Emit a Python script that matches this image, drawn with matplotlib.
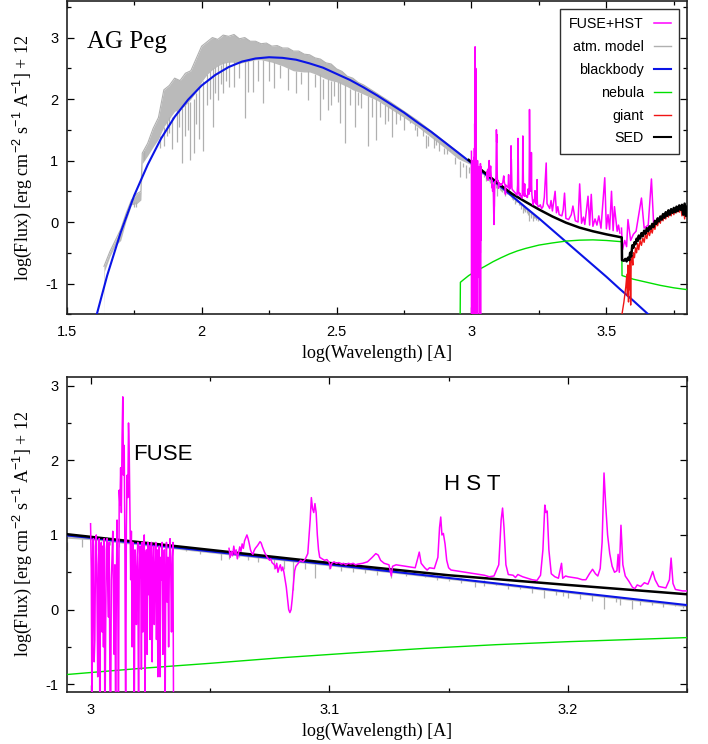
import numpy as np
import matplotlib
matplotlib.use('Agg')
import matplotlib.pyplot as plt
from matplotlib.lines import Line2D
from matplotlib.ticker import MultipleLocator, FuncFormatter

plt.rcParams['font.family'] = ['Liberation Sans', 'DejaVu Sans']
plt.rcParams['mathtext.fontset'] = 'custom'
plt.rcParams['mathtext.rm'] = 'Liberation Sans'
plt.rcParams['mathtext.it'] = 'Liberation Sans'

# ---------------- data (log wavelength [A], log flux + 12) ----------------
bb_wave = [1.60, 1.65, 1.70, 1.75, 1.80, 1.85, 1.90, 1.95, 2.00, 2.05, 2.10, 2.15,
           2.20, 2.25, 2.30, 2.35, 2.40, 2.45, 2.50, 2.55, 2.60, 2.65, 2.70, 2.75,
           2.80, 2.85, 2.90, 2.95, 3.00, 3.05, 3.10, 3.15, 3.20, 3.25, 3.30, 3.35,
           3.40, 3.45, 3.50, 3.55, 3.60, 3.65, 3.70]
bb_flux = [-1.69, -0.87, -0.17, 0.43, 0.93, 1.36, 1.71, 1.99, 2.22, 2.39, 2.52, 2.61,
           2.66, 2.68, 2.67, 2.64, 2.58, 2.51, 2.41, 2.31, 2.19, 2.06, 1.92, 1.78,
           1.62, 1.47, 1.30, 1.13, 0.96, 0.78, 0.605, 0.424, 0.24, 0.06, -0.13, -0.32,
           -0.51, -0.70, -0.89, -1.09, -1.28, -1.48, -1.67]

neb_wave = [2.958, 2.959, 2.97, 2.99, 3.02, 3.05, 3.08, 3.11, 3.14, 3.17, 3.20, 3.25,
            3.30, 3.35, 3.40, 3.45, 3.50, 3.557, 3.558, 3.60, 3.65, 3.70, 3.75, 3.80]
neb_flux = [-1.60, -0.98, -0.94, -0.87, -0.79, -0.72, -0.645, -0.58, -0.52, -0.47, -0.43, -0.375,
            -0.34, -0.31, -0.295, -0.29, -0.30, -0.32, -0.87, -0.93, -0.98, -1.03, -1.07, -1.10]

sed_wave = [2.990, 3.000, 3.050, 3.100, 3.150, 3.200, 3.250, 3.300, 3.350, 3.400, 3.450, 3.500, 3.557,
            3.558, 3.565, 3.570, 3.575, 3.580, 3.585, 3.588, 3.592, 3.596, 3.600, 3.604, 3.608,
            3.612, 3.616, 3.620, 3.625, 3.630, 3.635, 3.640, 3.645, 3.650, 3.655, 3.660, 3.665,
            3.670, 3.675, 3.680, 3.685, 3.690, 3.695, 3.700, 3.705, 3.710, 3.715, 3.720, 3.725,
            3.730, 3.735, 3.740, 3.745, 3.750, 3.755, 3.760, 3.765, 3.770, 3.775, 3.780, 3.785,
            3.790, 3.795, 3.800]
sed_flux = [1.01, 0.975, 0.80, 0.625, 0.46, 0.33, 0.205, 0.09, -0.01, -0.09, -0.15, -0.20, -0.25,
            -0.62, -0.63, -0.60, -0.64, -0.58, -0.62, -0.50, -0.56, -0.38, -0.42, -0.33, -0.36,
            -0.27, -0.31, -0.22, -0.27, -0.18, -0.23, -0.14, -0.19, -0.10, -0.15, -0.07, -0.11,
            -0.03, -0.08, 0.02, -0.03, 0.06, 0.01, 0.09, 0.04, 0.13, 0.07, 0.16, 0.10,
            0.19, 0.12, 0.21, 0.15, 0.23, 0.16, 0.25, 0.18, 0.27, 0.20, 0.28, 0.12,
            0.30, 0.10, 0.25]

giant_wave = [3.556, 3.565, 3.572, 3.576, 3.578, 3.580, 3.582, 3.584, 3.586, 3.588, 3.590, 3.592,
              3.595, 3.598, 3.600, 3.604, 3.608, 3.612, 3.616, 3.620, 3.625, 3.630, 3.635, 3.640,
              3.645, 3.650, 3.655, 3.660, 3.665, 3.670, 3.675, 3.680, 3.685, 3.690, 3.695, 3.700,
              3.705, 3.710, 3.715, 3.720, 3.725, 3.730, 3.735, 3.740, 3.745, 3.750, 3.755, 3.760,
              3.765, 3.770, 3.775, 3.780, 3.785, 3.790, 3.795, 3.800]
giant_flux = [-1.55, -1.30, -1.05, -0.85, -1.20, -0.70, -1.30, -0.75, -1.10, -0.60, -1.35, -0.62,
              -0.55, -0.70, -0.50, -0.58, -0.42, -0.50, -0.35, -0.45, -0.30, -0.38, -0.26, -0.33,
              -0.20, -0.27, -0.15, -0.22, -0.12, -0.18, -0.05, -0.12, 0.00, -0.06, 0.05, -0.02,
              0.10, 0.02, 0.12, 0.05, 0.16, 0.08, 0.18, 0.10, 0.20, 0.12, 0.22, 0.15,
              0.24, 0.16, 0.25, 0.10, 0.27, 0.05, 0.22, 0.15]

# atmosphere model: dense band (upper / lower envelope) plus strong absorption lines
atm_wave = [1.638, 1.640, 1.660, 1.680, 1.700, 1.720, 1.740, 1.760, 1.775, 1.780, 1.800, 1.820,
            1.840, 1.860, 1.880, 1.900, 1.920, 1.940, 1.960, 1.980, 2.000, 2.020, 2.040, 2.060,
            2.080, 2.100, 2.120, 2.140, 2.160, 2.180, 2.200, 2.220, 2.240, 2.260, 2.280, 2.300,
            2.320, 2.340, 2.360, 2.380, 2.400, 2.420, 2.440, 2.460, 2.480, 2.500, 2.520, 2.540,
            2.560, 2.580, 2.600, 2.650, 2.700, 2.750, 2.800, 2.850, 2.900, 2.950, 3.000, 3.050,
            3.100, 3.150, 3.200, 3.250]
atm_top = [-0.72, -0.70, -0.48, -0.30, -0.12, 0.14, 0.36, 0.46, 0.50, 1.12, 1.28, 1.52,
           1.70, 2.15, 2.22, 2.34, 2.30, 2.42, 2.46, 2.66, 2.86, 2.93, 3.00, 2.97,
           3.04, 3.02, 3.05, 2.98, 3.00, 2.94, 2.94, 2.90, 2.91, 2.86, 2.87, 2.83,
           2.83, 2.78, 2.78, 2.73, 2.72, 2.67, 2.65, 2.59, 2.57, 2.49, 2.45, 2.37,
           2.34, 2.27, 2.23, 2.09, 1.95, 1.80, 1.65, 1.48, 1.31, 1.14, 0.96, 0.78,
           0.60, 0.42, 0.24, 0.05]
atm_bot = [-1.50, -0.80, -0.56, -0.38, -0.30, 0.02, 0.28, 0.30, 0.36, 0.95, 1.08, 1.22,
           1.35, 1.55, 1.68, 1.80, 1.84, 1.90, 2.00, 2.12, 2.28, 2.40, 2.48, 2.54,
           2.58, 2.60, 2.60, 2.58, 2.60, 2.62, 2.64, 2.64, 2.62, 2.60, 2.57, 2.54,
           2.50, 2.46, 2.45, 2.44, 2.44, 2.41, 2.37, 2.33, 2.30, 2.28, 2.24, 2.20,
           2.15, 2.12, 2.08, 1.98, 1.84, 1.70, 1.55, 1.38, 1.21, 1.03, 0.93, 0.755,
           0.58, 0.40, 0.215, 0.03]
line_wave = [1.750, 1.757, 1.787, 1.860, 1.880, 1.890, 1.926, 1.940, 1.957, 1.970, 1.990, 2.006,
             2.020, 2.043, 2.061, 2.080, 2.100, 2.120, 2.160, 2.173, 2.190, 2.228, 2.250, 2.270,
             2.320, 2.350, 2.395, 2.438, 2.450, 2.469, 2.480, 2.506, 2.512, 2.531, 2.550, 2.568,
             2.590, 2.617, 2.648, 2.660, 2.680, 2.704, 2.735, 2.750, 2.772, 2.800, 2.833, 2.839,
             2.860, 2.880, 2.900, 2.920, 2.940, 2.957, 2.969, 2.981, 2.990, 2.9965, 3.003, 3.0545,
             3.062, 3.077, 3.0846, 3.094, 3.100, 3.126, 3.140, 3.161, 3.170, 3.180, 3.190, 3.195,
             3.205, 3.215, 3.227, 3.235, 3.245,
             1.845, 1.870, 1.910, 1.915, 1.950, 1.980, 2.030, 2.050, 2.070, 2.090, 2.140, 2.210,
             2.290, 2.370, 2.420, 2.490, 2.580, 2.630, 2.690, 2.720, 2.790, 2.820, 2.870, 2.910,
             3.008, 3.012, 3.020, 3.030, 3.040, 3.046, 3.058, 3.066, 3.070, 3.081, 3.090, 3.105,
             3.110, 3.115, 3.120, 3.132, 3.145, 3.150, 3.155, 3.165, 3.175, 3.185, 3.198, 3.200,
             3.210, 3.220, 3.222, 3.230, 3.240, 3.248]
line_lo = [0.25, 0.25, 1.01, 1.23, 1.45, 1.18, 0.96, 1.40, 1.01, 1.13, 1.35, 1.15,
           1.90, 1.55, 1.99, 2.10, 2.20, 2.20, 1.69, 2.12, 2.12, 1.93, 2.30, 2.18,
           2.15, 2.10, 1.99, 1.66, 2.00, 1.83, 1.90, 1.96, 1.61, 1.28, 1.90, 1.55,
           1.85, 1.23, 1.34, 1.70, 1.60, 1.39, 1.66, 1.50, 1.61, 1.40, 1.20, 1.23,
           1.20, 1.15, 1.10, 1.15, 0.95, 0.74, 0.90, 0.72, 0.80, 0.84, 0.80, 0.66,
           0.70, 0.55, 0.26, 0.42, 0.55, 0.42, 0.45, 0.30, 0.33, 0.28, 0.15, 0.20,
           0.14, 0.01, 0.01, 0.06, 0.05,
           1.20, 1.40, 1.30, 1.55, 1.50, 1.60, 2.00, 2.10, 2.25, 2.30, 2.35, 2.30,
           2.35, 2.25, 2.20, 2.05, 1.90, 1.70, 1.65, 1.60, 1.50, 1.40, 1.25, 1.10,
           0.86, 0.84, 0.82, 0.84, 0.78, 0.74, 0.68, 0.66, 0.64, 0.55, 0.55, 0.52,
           0.50, 0.49, 0.47, 0.45, 0.40, 0.38, 0.36, 0.32, 0.28, 0.22, 0.18, 0.16,
           0.12, 0.10, 0.06, 0.06, 0.04, 0.02]
line_hi = [0.33, 0.33, 1.15, 1.55, 1.70, 1.70, 1.85, 1.90, 1.95, 2.00, 2.20, 2.30,
           2.40, 2.50, 2.55, 2.60, 2.62, 2.62, 2.62, 2.63, 2.64, 2.64, 2.63, 2.60,
           2.50, 2.45, 2.45, 2.40, 2.33, 2.32, 2.30, 2.28, 2.27, 2.23, 2.17, 2.14,
           2.10, 2.05, 2.00, 1.96, 1.90, 1.84, 1.75, 1.70, 1.65, 1.55, 1.42, 1.40,
           1.37, 1.30, 1.20, 1.18, 1.05, 1.00, 0.96, 0.92, 0.90, 0.94, 0.93, 0.76,
           0.74, 0.69, 0.67, 0.64, 0.60, 0.49, 0.44, 0.39, 0.36, 0.32, 0.28, 0.26,
           0.22, 0.18, 0.13, 0.11, 0.08,
           1.40, 1.65, 1.82, 1.83, 1.95, 2.10, 2.45, 2.52, 2.56, 2.60, 2.58, 2.64,
           2.55, 2.44, 2.41, 2.30, 2.12, 2.02, 1.88, 1.80, 1.60, 1.50, 1.34, 1.18,
           0.92, 0.91, 0.90, 0.87, 0.85, 0.82, 0.75, 0.73, 0.71, 0.68, 0.65, 0.59,
           0.57, 0.55, 0.54, 0.50, 0.46, 0.44, 0.42, 0.39, 0.35, 0.31, 0.25, 0.24,
           0.21, 0.17, 0.16, 0.12, 0.09, 0.07]

# FUSE spectrum, sampled evenly between these wavelengths
fuse_range = (3.0000, 3.0348)
fuse_flux = [1.15, 0.55, -1.70, 0.90, 0.95, -0.70, -0.40, 0.85, 1.00, 0.20, -0.90, 0.60,
             0.95, -1.70, 0.80, 0.90, -0.30, 0.85, -0.50, 0.95, -1.70, -0.40, 0.80, 0.95,
             0.30, -0.10, 0.90, -0.95, -1.70, 0.40, 0.70, 1.05, 0.10, -0.60, 0.60, -1.70,
             0.30, 1.20, 0.20, -1.70, 1.60, 1.40, 1.90, 1.30, 2.30, 2.85, 1.80, 2.20,
             0.70, -1.70, 1.10, 1.80, 1.50, 2.50, 2.10, 1.30, 0.40, 1.05, -0.50, 0.90,
             0.60, -1.70, 0.80, 0.50, -0.20, 0.70, 0.90, -1.70, 0.40, 0.85, 0.70, -0.80,
             0.90, -0.30, 0.60, 1.00, -1.70, 0.70, 0.80, -0.60, 0.90, 0.20, 0.85, -0.40,
             0.70, 0.90, -0.70, 0.60, 0.85, -0.20, 0.50, 0.90, -0.40, 0.80, -0.90, 0.60,
             0.85, -0.90, 0.70, 0.40, 0.90, -0.60, 0.60, 0.80, -1.70, 0.50, 0.90, 0.10,
             0.70, -0.50, 0.60, 0.95, 0.50, -0.30, 0.70, 0.90, -1.70]

# HST spectrum (log wavelength, log flux)
hst_points = [
    (3.0580, 0.82), (3.0585, 0.70), (3.0590, 0.78), (3.0595, 0.72), (3.0600, 0.85), (3.0605, 0.74),
    (3.0610, 0.80), (3.0615, 0.68), (3.0620, 0.76), (3.0625, 0.84), (3.0630, 0.78), (3.0635, 0.88),
    (3.0640, 0.82), (3.0645, 0.92), (3.0650, 0.96), (3.0655, 1.00), (3.0660, 0.95), (3.0665, 0.88),
    (3.0670, 0.80), (3.0675, 0.76), (3.0680, 0.74), (3.0685, 0.79), (3.0690, 0.82), (3.0700, 0.86),
    (3.0710, 0.91), (3.0715, 0.89), (3.0720, 0.84), (3.0730, 0.76), (3.0740, 0.70), (3.0750, 0.66),
    (3.0755, 0.68), (3.0760, 0.63), (3.0770, 0.60), (3.0775, 0.55), (3.0780, 0.62), (3.0785, 0.50),
    (3.0790, 0.56), (3.0795, 0.60), (3.0800, 0.52), (3.0805, 0.57), (3.0810, 0.50), (3.0815, 0.40),
    (3.0820, 0.30), (3.0825, 0.15), (3.0830, 0.00), (3.0835, -0.04), (3.0840, 0.00), (3.0845, 0.15),
    (3.0850, 0.35), (3.0855, 0.52), (3.0860, 0.58), (3.0870, 0.62), (3.0880, 0.66), (3.0890, 0.64),
    (3.0900, 0.68), (3.0910, 0.75), (3.0920, 1.20), (3.0925, 1.50), (3.0930, 1.35), (3.0935, 1.30),
    (3.0940, 1.42), (3.0945, 1.30), (3.0950, 1.00), (3.0955, 0.80), (3.0960, 0.70), (3.0970, 0.68),
    (3.0980, 0.66), (3.0990, 0.67), (3.1000, 0.63), (3.1005, 0.55), (3.1010, 0.62), (3.1020, 0.64),
    (3.1030, 0.62), (3.1040, 0.63), (3.1050, 0.61), (3.1060, 0.62), (3.1070, 0.60), (3.1080, 0.62),
    (3.1090, 0.61), (3.1100, 0.62), (3.1110, 0.60), (3.1120, 0.61), (3.1140, 0.62), (3.1160, 0.64),
    (3.1180, 0.70), (3.1195, 0.75), (3.1205, 0.73), (3.1215, 0.66), (3.1230, 0.62), (3.1250, 0.60),
    (3.1260, 0.45), (3.1265, 0.58), (3.1280, 0.60), (3.1300, 0.59), (3.1320, 0.58), (3.1340, 0.57),
    (3.1360, 0.56), (3.1370, 0.68), (3.1377, 0.77), (3.1385, 0.62), (3.1400, 0.56), (3.1410, 0.53),
    (3.1420, 0.56), (3.1440, 0.55), (3.1455, 0.70), (3.1462, 1.10), (3.1467, 1.24), (3.1472, 1.00),
    (3.1478, 1.02), (3.1485, 0.88), (3.1492, 0.66), (3.1500, 0.56), (3.1510, 0.53), (3.1530, 0.52),
    (3.1550, 0.51), (3.1570, 0.50), (3.1590, 0.49), (3.1610, 0.48), (3.1630, 0.47), (3.1650, 0.46),
    (3.1670, 0.44), (3.1690, 0.45), (3.1710, 0.60), (3.1720, 1.20), (3.1726, 1.36), (3.1732, 1.10),
    (3.1740, 0.60), (3.1750, 0.47), (3.1770, 0.46), (3.1780, 0.43), (3.1790, 0.47), (3.1810, 0.44),
    (3.1830, 0.42), (3.1850, 0.40), (3.1870, 0.39), (3.1885, 0.46), (3.1895, 0.80), (3.1903, 1.40),
    (3.1908, 1.30), (3.1913, 1.32), (3.1920, 0.80), (3.1930, 0.48), (3.1945, 0.44), (3.1960, 0.42),
    (3.1973, 0.62), (3.1978, 0.42), (3.1990, 0.45), (3.2000, 0.44), (3.2020, 0.43), (3.2040, 0.42),
    (3.2060, 0.40), (3.2075, 0.40), (3.2090, 0.48), (3.2103, 0.54), (3.2115, 0.48), (3.2125, 0.45),
    (3.2135, 0.55), (3.2143, 0.90), (3.2151, 1.83), (3.2158, 1.40), (3.2166, 1.00), (3.2175, 0.75),
    (3.2185, 0.58), (3.2195, 0.50), (3.2205, 0.52), (3.2210, 0.74), (3.2215, 0.50), (3.2222, 1.13),
    (3.2230, 0.60), (3.2240, 0.45), (3.2255, 0.38), (3.2270, 0.30), (3.2280, 0.28), (3.2290, 0.33),
    (3.2305, 0.31), (3.2320, 0.36), (3.2335, 0.34), (3.2345, 0.42), (3.2355, 0.51), (3.2365, 0.40),
    (3.2380, 0.31), (3.2395, 0.30), (3.2410, 0.29), (3.2425, 0.40), (3.2432, 0.69), (3.2440, 0.35),
    (3.2450, 0.27), (3.2465, 0.26), (3.2480, 0.25), (3.2500, 0.25),
    (3.2550, 0.28), (3.2600, 0.22), (3.2650, 0.25), (3.2700, 0.40), (3.2770, 0.96), (3.2800, 0.30),
    (3.2850, 0.26), (3.2900, 0.22), (3.2950, 0.35), (3.3000, 0.18), (3.3100, 0.50), (3.3150, 0.15),
    (3.3200, 0.25), (3.3250, 0.12), (3.3350, 0.10), (3.3400, 0.20), (3.3450, 0.47), (3.3500, 0.06),
    (3.3600, 0.04), (3.3700, 0.12), (3.3760, 0.26), (3.3850, 0.02), (3.3950, 0.00), (3.4010, 0.62),
    (3.4080, -0.02), (3.4150, 0.08), (3.4200, -0.04), (3.4320, 0.42), (3.4380, -0.05), (3.4440, 0.45),
    (3.4500, -0.07), (3.4580, 0.05), (3.4650, -0.05), (3.4720, 0.10), (3.4800, -0.10), (3.4940, 0.72),
    (3.5000, -0.11), (3.5060, 0.12), (3.5120, -0.12), (3.5190, 0.50), (3.5250, -0.14), (3.5300, 0.25),
    (3.5400, -0.15), (3.5450, -0.05), (3.5500, -0.18), (3.5560, -0.10),
    (3.5600, -0.45), (3.5680, -0.30), (3.5750, -0.40), (3.5800, 0.04), (3.5900, -0.30), (3.6000, -0.20),
    (3.6100, -0.15), (3.6300, 0.39), (3.6400, -0.10), (3.6550, -0.05), (3.6670, 0.70), (3.6750, -0.02),
    (3.7000, 0.05),
]

legend_labels = ['FUSE+HST', 'atm. model', 'blackbody', 'nebula', 'giant', 'SED']

# ---------------- styles ----------------
MAGENTA = '#ff00ff'
GRAY = '#b0b0b0'
GRAYFILL = '#bababa'
BLUE = '#0a14e6'
GREEN = '#00e000'
RED = '#f01414'
BLACK = '#000000'

hst_wave = np.array([p[0] for p in hst_points])
hst_flux = np.array([p[1] for p in hst_points])
fuse_wave = np.linspace(fuse_range[0], fuse_range[1], len(fuse_flux))


def draw(ax):
    ax.fill_between(atm_wave, atm_bot, atm_top, color=GRAYFILL, lw=0, zorder=1)
    ax.plot(atm_wave, atm_top, color=GRAY, lw=0.8, zorder=1)
    ax.vlines(line_wave, line_lo, line_hi, color=GRAY, lw=0.9, zorder=1)
    ax.plot(bb_wave, bb_flux, color=BLUE, lw=1.5, zorder=3)
    ax.plot(neb_wave, neb_flux, color=GREEN, lw=1.0, zorder=3)
    ax.plot(giant_wave, giant_flux, color=RED, lw=1.0, zorder=4)
    low = hst_wave >= 3.555
    ax.plot(hst_wave[low], hst_flux[low], color=MAGENTA, lw=1.1, zorder=4.5)
    ax.plot(sed_wave, sed_flux, color=BLACK, lw=1.8, zorder=5)
    ax.plot(fuse_wave, fuse_flux, color=MAGENTA, lw=1.1, zorder=6)
    ax.plot(hst_wave[~low], hst_flux[~low], color=MAGENTA, lw=1.1, zorder=6)


def style(ax):
    ax.tick_params(which='both', direction='in', top=True, right=True, labelsize=10.5)
    ax.tick_params(which='major', length=5, width=0.9)
    ax.tick_params(which='minor', length=3, width=0.9)
    ax.tick_params(axis='x', pad=8)
    ax.tick_params(axis='y', pad=6)
    for s in ax.spines.values():
        s.set_linewidth(1.2)
        s.set_color('#222222')
    fmt = FuncFormatter(lambda v, p: f'{v:g}')
    ax.xaxis.set_major_formatter(fmt)
    ax.yaxis.set_major_formatter(fmt)
    ax.set_xlabel('log(Wavelength) [A]', family='Liberation Serif', fontsize=13, labelpad=4)
    ax.set_ylabel(r'log(Flux) [erg cm$^{-2}$ s$^{-1}$ A$^{-1}$] + 12',
                  family='Liberation Serif', fontsize=13, labelpad=8)


fig = plt.figure(figsize=(7.08, 7.44), dpi=100)
ax1 = fig.add_axes([0.0942, 0.5776, 0.8766, 0.4215])
ax2 = fig.add_axes([0.0942, 0.0703, 0.8766, 0.4234])

draw(ax1)
ax1.set_xlim(1.5, 3.8)
ax1.set_ylim(-1.5, 3.6)
ax1.xaxis.set_major_locator(MultipleLocator(0.5))
ax1.xaxis.set_minor_locator(MultipleLocator(0.25))
ax1.yaxis.set_major_locator(MultipleLocator(1))
ax1.yaxis.set_minor_locator(MultipleLocator(0.5))
style(ax1)
ax1.text(1.575, 2.83, 'AG Peg', family='Liberation Serif', fontsize=18, va='baseline', ha='left')

colors = [MAGENTA, GRAY, BLUE, GREEN, RED, BLACK]
widths = [1.1, 1.0, 1.5, 1.0, 1.0, 1.5]
handles = [Line2D([], [], color=c, lw=w) for c, w in zip(colors, widths)]
leg = ax1.legend(handles, legend_labels, loc='upper right', markerfirst=False,
                 frameon=True, fancybox=False, framealpha=1, edgecolor='#303030',
                 fontsize=10.3, handlelength=1.2, handletextpad=0.7, labelspacing=0.62,
                 borderpad=0.6, borderaxespad=0.55)
leg.get_frame().set_linewidth(1.0)
leg.set_zorder(10)

draw(ax2)
ax2.set_xlim(2.990, 3.250)
ax2.set_ylim(-1.1, 3.12)
ax2.xaxis.set_major_locator(MultipleLocator(0.1))
ax2.xaxis.set_minor_locator(MultipleLocator(0.05))
ax2.yaxis.set_major_locator(MultipleLocator(1))
ax2.yaxis.set_minor_locator(MultipleLocator(0.5))
style(ax2)
ax2.text(3.018, 2.007, 'FUSE', fontsize=16, va='baseline', ha='left')
ax2.text(3.148, 1.60, 'H S T', fontsize=16, va='baseline', ha='left')

fig.savefig('out.png', dpi=100)
